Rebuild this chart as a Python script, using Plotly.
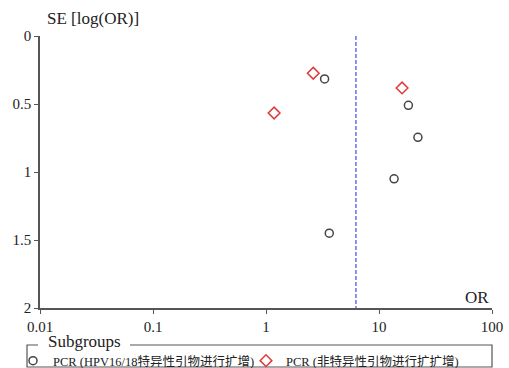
import plotly.graph_objects as go

# ---- data ----
grp1_name = "PCR (HPV16/18特异性引物进行扩增)"
grp1_or = [3.30, 18.2, 22.1, 13.6, 3.63]
grp1_se = [0.316, 0.51, 0.745, 1.05, 1.45]

grp2_name = "PCR (非特异性引物进行扩扩增)"
grp2_or = [2.62, 1.18, 16.0]
grp2_se = [0.274, 0.566, 0.382]

pooled_or = 6.25
se_range = [0, 2]
x_ticks = [0.01, 0.1, 1, 10, 100]
x_labels = ["0.01", "0.1", "1", "10", "100"]
y_ticks = [0, 0.5, 1, 1.5, 2]
y_labels = ["0", "0.5", "1", "1.5", "2"]

W, H = 509, 368
ML, MR, MT, MB = 40, 17, 36, 60
PW, PH = W - ML - MR, H - MT - MB

def px(x):
    return (x - ML) / PW

def py(y):
    return (H - MB - y) / PH

SERIF = "Liberation Serif, Noto Sans CJK SC, serif"
AX = "#555555"

fig = go.Figure()
fig.add_trace(go.Scatter(x=[pooled_or, pooled_or], y=se_range, mode="lines",
                         line=dict(color="#6f6ff0", width=1.5, dash="4px,2px"),
                         showlegend=False, hoverinfo="skip"))
fig.add_trace(go.Scatter(x=grp1_or, y=grp1_se, mode="markers", name=grp1_name,
                         marker=dict(symbol="circle-open", size=8, color="#444444",
                                     line=dict(width=1.5))))
fig.add_trace(go.Scatter(x=grp2_or, y=grp2_se, mode="markers", name=grp2_name,
                         marker=dict(symbol="diamond-open", size=9, color="#e03a3a",
                                     line=dict(width=1.5))))

axis_common = dict(showgrid=False, zeroline=False, showline=True, linecolor=AX,
                   linewidth=1.5, tickcolor=AX, tickwidth=1.2, ticklen=4,
                   tickfont=dict(family=SERIF, size=15, color="#222222"))

fig.update_layout(
    width=W, height=H,
    margin=dict(l=ML, r=MR, t=MT, b=MB, autoexpand=False),
    paper_bgcolor="white", plot_bgcolor="white",
    xaxis=dict(type="log", range=[-2, 2], tickvals=x_ticks, ticktext=x_labels,
               ticks="outside", anchor="y", **axis_common),
    yaxis=dict(range=[2, 0], tickvals=y_ticks, ticktext=y_labels,
               ticks="outside", anchor="x", **axis_common),
    xaxis2=dict(type="log", range=[-2, 2], tickvals=x_ticks, overlaying="x",
                anchor="y", ticks="inside", showticklabels=False, showgrid=False,
                zeroline=False, showline=False, tickcolor=AX, tickwidth=1.2, ticklen=4),
    yaxis2=dict(range=[2, 0], tickvals=y_ticks, overlaying="y", anchor="x",
                ticks="inside", showticklabels=False, showgrid=False,
                zeroline=False, showline=False, tickcolor=AX, tickwidth=1.2, ticklen=4),
    showlegend=True,
    legend=dict(orientation="h", x=px(13), xanchor="left", y=py(346), yanchor="top",
                font=dict(family=SERIF, size=12.5, color="#222222"),
                bgcolor="rgba(0,0,0,0)", borderwidth=0, entrywidth=188,
                entrywidthmode="pixels", itemwidth=30),
    annotations=[
        dict(text="SE [log(OR)]", x=px(45), y=py(18), xref="paper", yref="paper",
             xanchor="left", yanchor="middle", showarrow=False,
             font=dict(family=SERIF, size=17, color="#222222")),
        dict(text="OR", x=px(491), y=py(297), xref="paper", yref="paper",
             xanchor="right", yanchor="middle", showarrow=False,
             font=dict(family=SERIF, size=17, color="#222222")),
        dict(text="Subgroups", x=px(46), y=py(341), xref="paper", yref="paper",
             xanchor="left", yanchor="middle", showarrow=False,
             font=dict(family=SERIF, size=17, color="#222222")),
    ],
    shapes=[
        dict(type="path", xref="paper", yref="paper",
             path=(f"M {px(38)},{py(345)} L {px(27)},{py(345)} L {px(27)},{py(367)} "
                   f"L {px(492)},{py(367)} L {px(492)},{py(345)} L {px(130)},{py(345)}"),
             line=dict(color=AX, width=1.2)),
    ],
)

fig.write_html("out.html")
